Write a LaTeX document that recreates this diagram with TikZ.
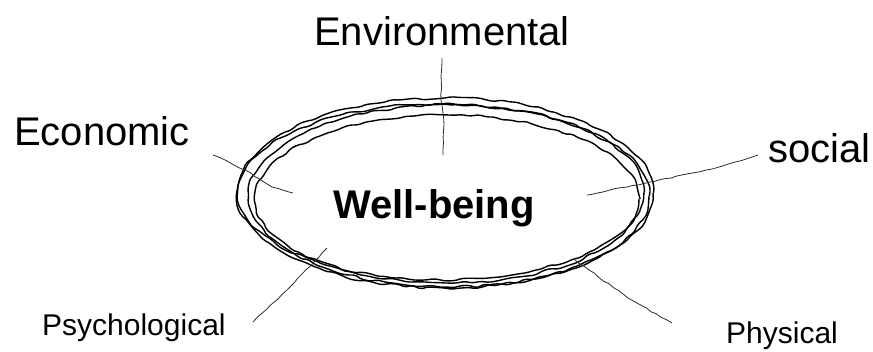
\documentclass[tikz,border=0pt]{standalone}
\usepackage{fontspec}
\setmainfont{Liberation Sans}
\usepackage{tikz}
\usetikzlibrary{decorations.pathmorphing}
\definecolor{inkgray}{RGB}{45,45,45}
\tikzset{
  rough/.style={decorate, decoration={random steps, segment length=8pt, amplitude=1.5pt}, rounded corners=2pt, line width=1.4pt},
  spoke/.style={decorate, decoration={random steps, segment length=6pt, amplitude=0.6pt}, line width=0.8pt, draw=inkgray},
  biglabel/.style={font=\fontsize{40}{44}\selectfont, anchor=base west, inner sep=0pt},
  smalllabel/.style={font=\fontsize{30}{34}\selectfont, anchor=base west, inner sep=0pt}
}

\begin{document}
\begin{tikzpicture}[x=1pt, y=-1pt]
\pgfmathsetseed{7}
\useasboundingbox (0,0) rectangle (873,351);
% the ring, drawn several times by hand
\draw[rough] (445,193) ellipse [x radius=208, y radius=95];
\draw[rough] (449,196) ellipse [x radius=200, y radius=91];
\draw[rough] (441,192) ellipse [x radius=203, y radius=88];
\draw[rough] (447,199) ellipse [x radius=192, y radius=84];
\node[font=\fontsize{40}{44}\selectfont\bfseries, anchor=base west, inner sep=0pt] (wb) at (333,218) {Well-being};
% labels
\node[biglabel] (env) at (314,45) {Environmental};
\node[biglabel] (eco) at (14,145) {Economic};
\node[biglabel] (soc) at (768,162) {social};
\node[smalllabel] (psy) at (42,335) {Psychological};
\node[smalllabel] (phy) at (726,343) {Physical};
% spokes
\coordinate (env-out) at (442,58);
\coordinate (env-in) at (443,155);
\coordinate (eco-out) at (213,155);
\coordinate (eco-in) at (293,193);
\coordinate (soc-out) at (758,155);
\coordinate (soc-in) at (587,195);
\coordinate (psy-out) at (253,322);
\coordinate (psy-in) at (327,248);
\coordinate (phy-out) at (672,323);
\coordinate (phy-in) at (575,260);
\draw[spoke] (env-out) -- (441,100) -- (444,125) -- (env-in);
\draw[spoke] (eco-out) -- (245,170) -- (272,187) -- (eco-in);
\draw[spoke] (soc-out) -- (712,169) -- (650,182) -- (soc-in);
\draw[spoke] (psy-out) -- (273,303) -- (290,287) -- (psy-in);
\draw[spoke] (phy-out) -- (628,298) -- (phy-in);
\end{tikzpicture}
\end{document}
